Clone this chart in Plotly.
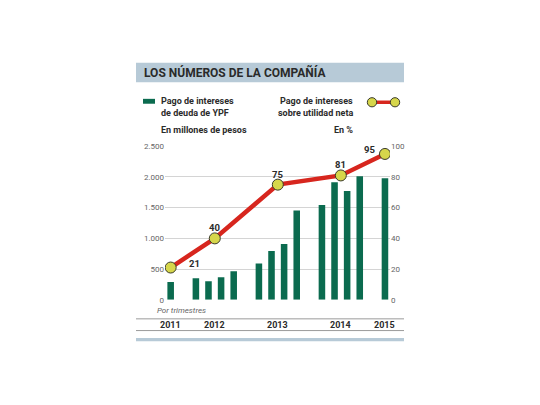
import plotly.graph_objects as go

# ── Data ─────────────────────────────────────────────────────
years = ["2011", "2012", "2013", "2014", "2015"]
quarter_year = ["2011",
                "2012", "2012", "2012", "2012",
                "2013", "2013", "2013", "2013",
                "2014", "2014", "2014", "2014",
                "2015"]
interest_paid = [290,
                 350, 300, 365, 465,
                 590, 795, 910, 1455,
                 1545, 1915, 1770, 2010,
                 1980]                      # millones de pesos
pct_net_income = [21, 40, 75, 81, 95]       # % sobre utilidad neta

# ── Theme ────────────────────────────────────────────────────
COLORS = {
    "bar"    : "#0B6B4F",
    "line"   : "#D7261E",
    "marker" : "#D6D64B",
    "banner" : "#B7CAD7",
    "text"   : "#2B2B2B",
    "muted"  : "#666666",
    "grid"   : "#D4D4D4",
    "rule"   : "#9A9A9A",
}
FONT = "Roboto, Arial, sans-serif"
W, H = 540, 405


def px(x, y):
    """pixel position -> paper coords"""
    return x / W, 1 - y / H


# slot position of every quarter, one empty slot between years
slots, pos, prev = [], 0, None
for yr in quarter_year:
    if prev is not None and yr != prev:
        pos += 1
    slots.append(pos)
    pos += 1
    prev = yr
year_centers = []
for yr in years:
    s = [slots[i] for i, q in enumerate(quarter_year) if q == yr]
    year_centers.append(sum(s) / len(s))

fig = go.Figure()

fig.add_trace(go.Bar(
    x            = slots,
    y            = interest_paid,
    width        = 0.52,
    marker_color = COLORS["bar"],
    marker_line_width = 0,
))

fig.add_trace(go.Scatter(
    x      = year_centers,
    y      = pct_net_income,
    yaxis  = "y2",
    mode   = "lines+markers",
    line   = dict(color=COLORS["line"], width=4.5),
    marker = dict(size=11, color=COLORS["marker"],
                  line=dict(color="#3A3A2A", width=1)),
))

# ── Annotations ─────────────────────────────────────────────
ann = []


def text(x, y, s, size=9.5, color=COLORS["text"], xanchor="left", **kw):
    xx, yy = px(x, y)
    ann.append(dict(x=xx, y=yy, xref="paper", yref="paper", text=s,
                    showarrow=False, xanchor=xanchor, yanchor="middle",
                    font=dict(family=FONT, size=size, color=color), **kw))


text(142, 70.5, "<b>LOS NÚMEROS DE LA COMPAÑÍA</b>", size=12, color="#2A2A2A")
text(159, 99.5, "<b>Pago de intereses</b>", size=9)
text(159, 111.5, "<b>de deuda de YPF</b>", size=9)
text(355, 99.5, "<b>Pago de intereses</b>", size=9, xanchor="right")
text(355, 111.5, "<b>sobre utilidad neta</b>", size=9, xanchor="right")
text(159, 129, "<b>En millones de pesos</b>", size=9)
text(355, 129, "<b>En %</b>", size=9, xanchor="right")
text(155, 313, "<i>Por trimestres</i>", size=8, color=COLORS["muted"])

for xc, yr in zip(year_centers, years):
    ann.append(dict(x=xc, y=1 - 328 / H, xref="x", yref="paper",
                    text=f"<b>{yr}</b>", showarrow=False, yanchor="middle",
                    font=dict(family=FONT, size=9, color=COLORS["text"])))

shifts = [(24, 4), (0, 11), (0, 10), (0, 11), (-15, 4)]
for xc, v, (dx, dy) in zip(year_centers, pct_net_income, shifts):
    ann.append(dict(x=xc, y=v, xref="x", yref="y2", text=f"<b>{v}</b>",
                    showarrow=False, xshift=dx, yshift=dy,
                    font=dict(family=FONT, size=9.5, color=COLORS["text"])))

# ── Decorative shapes ───────────────────────────────────────
shapes = []


def rect(x0, y0, x1, y1, color):
    a, b = px(x0, y0)
    c, d = px(x1, y1)
    shapes.append(dict(type="rect", xref="paper", yref="paper",
                       x0=a, y0=d, x1=c, y1=b, fillcolor=color, line_width=0))


def hline(x0, x1, y, color, width=1):
    a, b = px(x0, y)
    c, _ = px(x1, y)
    shapes.append(dict(type="line", xref="paper", yref="paper",
                       x0=a, y0=b, x1=c, y1=b, line=dict(color=color, width=width)))


def circle(cx, cy, r):
    a, b = px(cx - r, cy - r)
    c, d = px(cx + r, cy + r)
    shapes.append(dict(type="circle", xref="paper", yref="paper",
                       x0=a, y0=d, x1=c, y1=b, fillcolor=COLORS["marker"],
                       line=dict(color="#3A3A2A", width=1)))


rect(136, 60, 404, 80, COLORS["banner"])
rect(143, 97, 155, 102, COLORS["bar"])
hline(372, 395, 100.5, COLORS["line"], 3.5)
circle(372, 100.5, 4.7)
circle(395, 100.5, 4.7)
hline(136, 404, 322, COLORS["rule"])
hline(136, 404, 334, COLORS["rule"])
rect(136, 341.5, 404, 345, COLORS["banner"])

fig.update_layout(
    width         = W,
    height        = H,
    margin        = dict(l=0, r=0, t=0, b=0),
    paper_bgcolor = "white",
    plot_bgcolor  = "white",
    showlegend    = False,
    separators    = ",.",
    font          = dict(family=FONT, color=COLORS["muted"]),
    annotations   = ann,
    shapes        = shapes,
    xaxis = dict(domain=[165 / W, 390 / W], range=[-0.45, 17.4],
                 showticklabels=False, showgrid=False, zeroline=False),
    yaxis = dict(domain=[1 - 302.5 / H, 1 - 145.5 / H], range=[0, 2500],
                 dtick=500, tickformat=",d", gridcolor=COLORS["grid"],
                 gridwidth=1, zeroline=False, ticks="",
                 tickfont=dict(size=8, color=COLORS["muted"])),
    yaxis2 = dict(overlaying="y", side="right", range=[0, 100], dtick=20,
                  showgrid=False, zeroline=False, ticks="",
                  tickfont=dict(size=8, color=COLORS["muted"])),
)

# page body has a default 8px margin; drop it so the figure sits at 0,0
fig.write_html("out.html", config={"displayModeBar": False},
               post_script="document.body.style.margin='0';")
